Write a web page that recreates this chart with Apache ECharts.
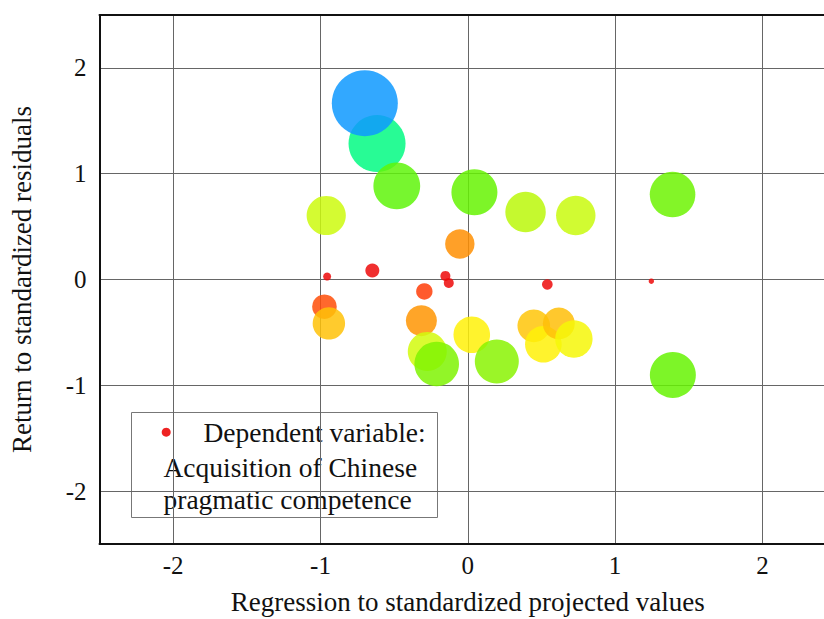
<!DOCTYPE html>
<html>
<head>
<meta charset="utf-8">
<script src="https://cdn.jsdelivr.net/npm/echarts@6/dist/echarts.min.js"></script>
<style>html,body{margin:0;padding:0;background:#fff;}#main{width:824px;height:619px;}</style>
</head>
<body>
<div id="main"></div>
<script>
// Data
const xValues = [-0.616, -0.699, -0.482, -0.961, 0.045, 0.392, 0.733, 1.390, -0.054, -0.152,
                 -0.129, 0.540, 1.246, -0.955, -0.648, -0.295, -0.973, -0.943, -0.315, -0.275,
                 -0.211, 0.027, 0.197, 0.448, 0.513, 0.618, 0.720, 1.392];
const yValues = [1.285, 1.666, 0.884, 0.605, 0.825, 0.638, 0.605, 0.803, 0.336, 0.034,
                 -0.032, -0.047, -0.016, 0.028, 0.085, -0.113, -0.257, -0.415, -0.389, -0.680,
                 -0.798, -0.522, -0.774, -0.438, -0.612, -0.416, -0.562, -0.902];
const weights = [2.85, 3.30, 2.34, 1.96, 2.30, 2.02, 1.97, 2.28, 1.47, 0.50,
                 0.50, 0.53, 0.27, 0.40, 0.70, 0.82, 1.23, 1.62, 1.55, 1.95,
                 2.23, 1.83, 2.20, 1.63, 1.83, 1.60, 1.87, 2.30];
const xTicks = [-2, -1, 0, 1, 2];
const yTicks = [-2, -1, 0, 1, 2];
const seriesName = 'Dependent variable: Acquisition of Chinese pragmatic competence';
const legendLines = ['Dependent variable:', 'Acquisition of Chinese', 'pragmatic competence'];
const xName = 'Regression to standardized projected values';
const yName = 'Return to standardized residuals';

// colour scale (style)
const stops = [
  [0.00, [237, 8, 8]], [0.75, [237, 10, 10]], [0.82, [255, 61, 8]], [1.25, [255, 79, 8]],
  [1.47, [255, 143, 2]], [1.56, [255, 150, 2]], [1.60, [255, 190, 8]], [1.84, [255, 243, 8]],
  [1.90, [237, 250, 8]], [1.96, [204, 250, 14]], [2.20, [137, 243, 2]], [2.30, [102, 243, 2]],
  [2.85, [2, 250, 131]], [3.30, [14, 153, 255]]
];
function colorFor(w) {
  if (w <= stops[0][0]) return 'rgb(' + stops[0][1].join(',') + ')';
  for (let i = 1; i < stops.length; i++) {
    if (w <= stops[i][0]) {
      const a = stops[i - 1], b = stops[i];
      const t = (w - a[0]) / (b[0] - a[0]);
      const c = a[1].map((v, k) => Math.round(v + (b[1][k] - v) * t));
      return 'rgb(' + c.join(',') + ')';
    }
  }
  return 'rgb(' + stops[stops.length - 1][1].join(',') + ')';
}

const data = xValues.map((x, i) => [x, yValues[i], weights[i]]);
const FONT = '"Liberation Serif", "Times New Roman", serif';

const chart = echarts.init(document.getElementById('main'), null, {renderer: 'svg'});
chart.setOption({
  animation: false,
  backgroundColor: '#fff',
  grid: {left: 99.5, right: 0, top: 15, bottom: 75, containLabel: false, outerBoundsMode: 'none'},
  xAxis: [{
    type: 'value', min: -2.5, max: 2.418, minInterval: 1, maxInterval: 1,
    name: xName, nameLocation: 'middle', nameGap: 44,
    nameTextStyle: {fontFamily: FONT, fontSize: 27, color: '#111', padding: [0, 0, 0, 12]},
    axisLine: {show: true, onZero: false, lineStyle: {color: '#111', width: 2}},
    axisTick: {show: false},
    axisLabel: {fontFamily: FONT, fontSize: 25, color: '#111', margin: 9,
      showMinLabel: false, showMaxLabel: false,
      formatter: v => (xTicks.indexOf(v) >= 0 ? String(v) : '')},
    splitLine: {show: true, lineStyle: {color: '#666', width: 1}}
  }, {
    type: 'value', position: 'top', min: -2.5, max: 2.418,
    axisLine: {show: true, onZero: false, lineStyle: {color: '#111', width: 2}},
    axisTick: {show: false}, axisLabel: {show: false}, splitLine: {show: false}
  }],
  yAxis: {
    type: 'value', min: -2.5, max: 2.5, minInterval: 1, maxInterval: 1,
    name: yName, nameLocation: 'middle', nameGap: 64, nameRotate: 90,
    nameTextStyle: {fontFamily: FONT, fontSize: 27, color: '#111'},
    axisLine: {show: true, onZero: false, lineStyle: {color: '#111', width: 2}},
    axisTick: {show: false},
    axisLabel: {fontFamily: FONT, fontSize: 25, color: '#111', margin: 13,
      showMinLabel: false, showMaxLabel: false,
      formatter: v => (yTicks.indexOf(v) >= 0 ? String(v) : '')},
    splitLine: {show: true, lineStyle: {color: '#666', width: 1}}
  },
  series: [{
    type: 'scatter',
    name: seriesName,
    data: data,
    symbol: 'circle',
    symbolSize: v => v[2] * 20,
    itemStyle: {
      color: p => colorFor(p.value[2]),
      opacity: 0.85
    },
    emphasis: {disabled: true}
  }],
  graphic: [{
    type: 'group', left: 131, top: 412, z: 100,
    children: [
      {type: 'rect', shape: {x: 0, y: 0, width: 306, height: 105},
        style: {fill: '#fff', stroke: '#777', lineWidth: 1}},
      {type: 'circle', shape: {cx: 34.7, cy: 19.7, r: 4.5}, style: {fill: '#ee2222'}},
      {type: 'text', x: 72, y: 19.7, style: {text: legendLines[0], font: '27.5px ' + FONT, fill: '#111', verticalAlign: 'middle'}},
      {type: 'text', x: 32, y: 54.7, style: {text: legendLines[1], font: '27.5px ' + FONT, fill: '#111', verticalAlign: 'middle'}},
      {type: 'text', x: 32, y: 87.3, style: {text: legendLines[2], font: '27.5px ' + FONT, fill: '#111', verticalAlign: 'middle'}}
    ]
  }]
});
</script>
</body>
</html>
